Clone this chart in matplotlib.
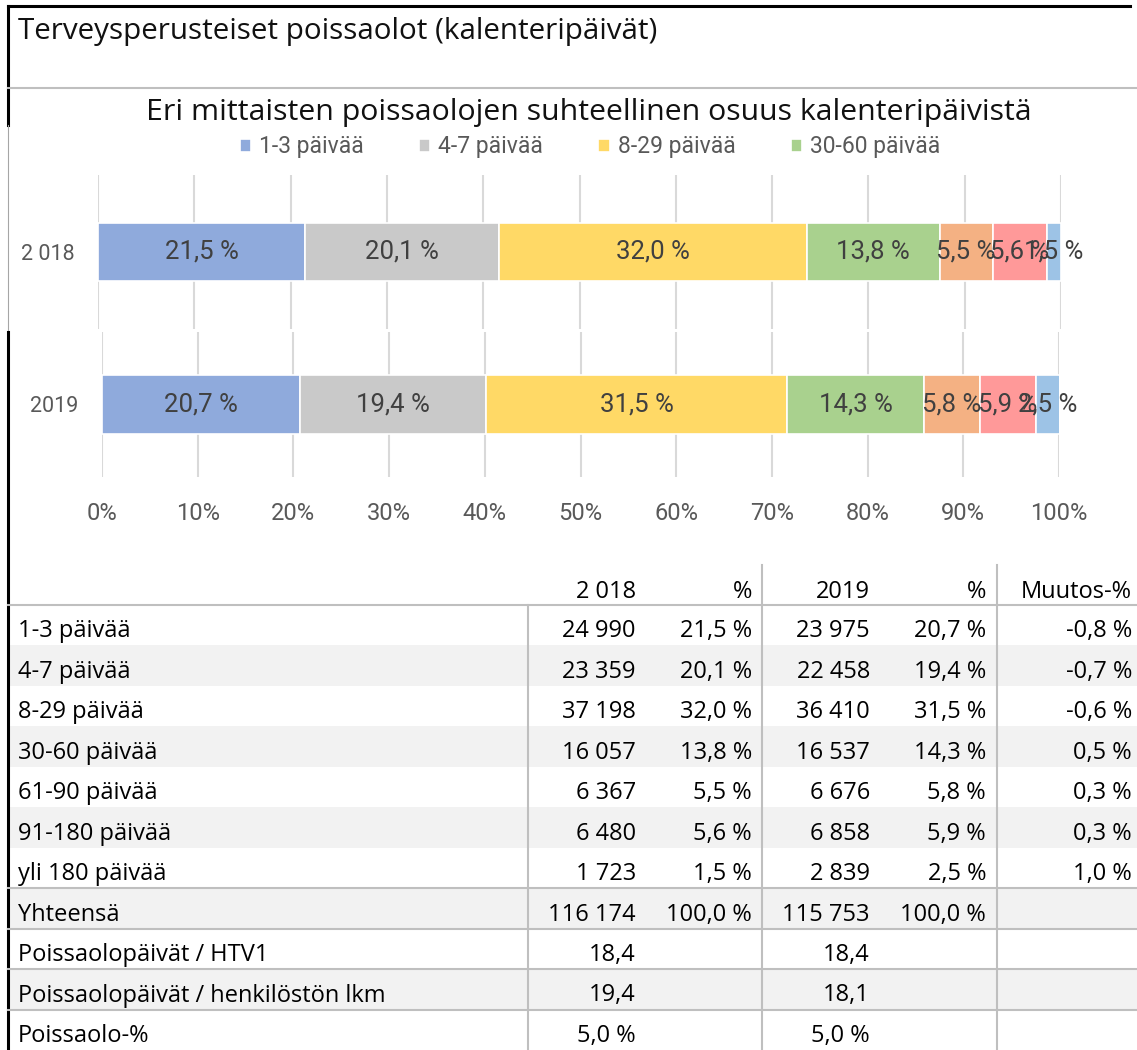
import matplotlib
matplotlib.use("Agg")
import matplotlib.pyplot as plt
from matplotlib.lines import Line2D
from matplotlib.patches import Rectangle

# data
categories = ["1-3 päivää", "4-7 päivää", "8-29 päivää", "30-60 päivää",
              "61-90 päivää", "91-180 päivää", "yli 180 päivää"]
colors = ["#8FAADC", "#C9C9C9", "#FFD966", "#A9D18E",
          "#F4B183", "#FF9999", "#9DC3E6"]
years = ["2 018", "2019"]
days_2018 = [24990, 23359, 37198, 16057, 6367, 6480, 1723]
days_2019 = [23975, 22458, 36410, 16537, 6676, 6858, 2839]
pct_2018 = [21.5, 20.1, 32.0, 13.8, 5.5, 5.6, 1.5]
pct_2019 = [20.7, 19.4, 31.5, 14.3, 5.8, 5.9, 2.5]
change = [-0.8, -0.7, -0.6, 0.5, 0.3, 0.3, 1.0]
total_2018, total_2019 = 116174, 115753
per_htv = [18.4, 18.4]
per_person = [19.4, 18.1]
absence_pct = [5.0, 5.0]
xticks = [0, 10, 20, 30, 40, 50, 60, 70, 80, 90, 100]

W, H = 1137, 1050


def fx(x):
    return x / W


def fy(y):
    return 1 - y / H


def num(v):
    return f"{v:,}".replace(",", " ")


def pct(v):
    return f"{v:.1f} %".replace(".", ",")


def dec(v):
    return f"{v:.1f}".replace(".", ",")


fig = plt.figure(figsize=(W / 100, H / 100), dpi=100)

chart_font = "Roboto"
title_font = "Open Sans"
table_font = "Open Sans"


def bar_axes(left, right, top, bottom, values, year, show_ticks):
    ax = fig.add_axes([fx(left), fy(bottom), (right - left) / W, (bottom - top) / H])
    span = (bottom - top) / 58.0
    start = 0
    bars = []
    for v, c in zip(values, colors):
        b = ax.barh([0], [v], left=[start], height=1.0, color=c,
                    edgecolor="white", linewidth=1.2, zorder=2)
        ax.bar_label(b, labels=[pct(v)], label_type="center",
                     fontsize=18.5, color="#404040", family=chart_font)
        bars.append(b)
        start += v
    ax.set_xlim(0, 100)
    ax.set_ylim(-span / 2, span / 2)
    ax.set_xticks(xticks)
    ax.grid(axis="x", color="#D9D9D9", linewidth=1.5, zorder=0)
    ax.set_yticks([0])
    ax.set_yticklabels([year], fontsize=15.5, color="#595959", family=chart_font)
    ax.tick_params(axis="y", length=0, pad=17)
    if show_ticks:
        ax.set_xticklabels([f"{t}%" for t in xticks], fontsize=17,
                           color="#595959", family=chart_font)
        ax.tick_params(axis="x", length=0, pad=18)
    else:
        ax.tick_params(axis="x", length=0, labelbottom=False)
    for s in ax.spines.values():
        s.set_visible(False)
    return ax, bars


ax1, bars1 = bar_axes(98, 1061, 175, 329, pct_2018, years[0], False)
ax2, bars2 = bar_axes(102, 1059, 332, 477, pct_2019, years[1], True)

# frame lines
fig.add_artist(Line2D([fx(8), fx(1130)], [fy(6), fy(6)], color="black", lw=2.2))
fig.add_artist(Line2D([fx(8), fx(8)], [fy(6), fy(125)], color="black", lw=2.2))
fig.add_artist(Line2D([fx(8), fx(1137)], [fy(88), fy(88)], color="#BFBFBF", lw=1.5))
fig.add_artist(Line2D([fx(8), fx(8)], [fy(125), fy(330)], color="#A6A6A6", lw=0.8))
fig.add_artist(Line2D([fx(8), fx(8)], [fy(332), fy(1050)], color="black", lw=2.2))

fig.text(fx(18), fy(39), "Terveysperusteiset poissaolot (kalenteripäivät)",
         fontsize=21.3, family=title_font, color="#111111", va="baseline", ha="left")
fig.text(fx(589), fy(120), "Eri mittaisten poissaolojen suhteellinen osuus kalenteripäivistä",
         fontsize=21.8, family=title_font, color="#111111", va="baseline", ha="center")

fig.legend([b[0] for b in bars1[:4]], categories[:4], loc="center",
           bbox_to_anchor=(fx(590), fy(147)), ncol=4, frameon=False,
           handlelength=0.5, handleheight=0.5, handletextpad=0.35,
           columnspacing=2.4, prop={"family": chart_font, "size": 16.5},
           labelcolor="#595959")

# table
row_top = 605
row_h = 40.45
rows = []
for i, c in enumerate(categories):
    rows.append([c, num(days_2018[i]), pct(pct_2018[i]),
                 num(days_2019[i]), pct(pct_2019[i]), pct(change[i])])
rows.append(["Yhteensä", num(total_2018), pct(100.0), num(total_2019), pct(100.0), ""])
rows.append(["Poissaolopäivät / HTV1", dec(per_htv[0]), "", dec(per_htv[1]), "", ""])
rows.append(["Poissaolopäivät / henkilöstön lkm", dec(per_person[0]), "",
             dec(per_person[1]), "", ""])
rows.append(["Poissaolo-%", pct(absence_pct[0]), "", pct(absence_pct[1]), "", ""])

col_right = [636, 752, 870, 986, 1132]
header = ["2 018", "%", "2019", "%", "Muutos-%"]
tsize = 17
for x, t in zip(col_right, header):
    fig.text(fx(x), fy(row_top - 7), t, fontsize=tsize, family=table_font,
             ha="right", va="baseline", color="black")

for i, r in enumerate(rows):
    top = row_top + i * row_h
    bottom = top + row_h
    if i % 2 == 1:
        fig.add_artist(Rectangle((fx(9), fy(bottom)), (1137 - 9) / W, row_h / H,
                                 facecolor="#F2F2F2", edgecolor="none", zorder=0))
    fig.text(fx(18), fy(bottom - 8), r[0], fontsize=tsize, family=table_font,
             ha="left", va="baseline", color="black")
    for x, t in zip(col_right, r[1:]):
        fig.text(fx(x), fy(bottom - 8), t, fontsize=tsize, family=table_font,
                 ha="right", va="baseline", color="black")

grid_c = "#BFBFBF"
fig.add_artist(Line2D([fx(8), fx(1137)], [fy(row_top), fy(row_top)], color=grid_c, lw=1.5))
for k in (7, 8, 9, 10):
    y = row_top + k * row_h
    fig.add_artist(Line2D([fx(8), fx(1137)], [fy(y), fy(y)], color=grid_c, lw=1.5))
fig.add_artist(Line2D([fx(528), fx(528)], [fy(row_top), fy(1050)], color=grid_c, lw=1.5))
for x in (762, 997):
    fig.add_artist(Line2D([fx(x), fx(x)], [fy(565), fy(1050)], color=grid_c, lw=1.5))

fig.savefig("out.png", dpi=100)
